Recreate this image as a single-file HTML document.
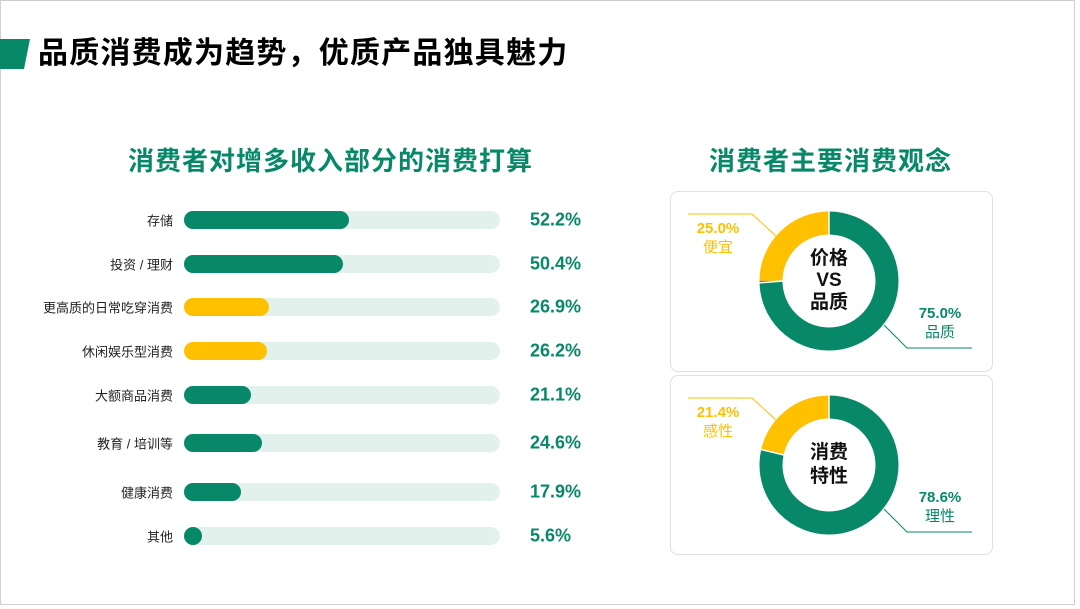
<!DOCTYPE html>
<html><head><meta charset="utf-8"><style>
body{margin:0;width:1080px;height:609px;background:#fff;font-family:"Liberation Sans","Noto Sans CJK SC",sans-serif;overflow:hidden;position:relative}
.slide{position:absolute;left:0;top:0;width:1073px;height:603px;border:1px solid #d0d0d0;border-top:1px solid #ccc;background:#fff}
.abs{position:absolute}
.lbl{position:absolute;right:907px;font-size:13px;color:#222;white-space:nowrap;transform:translateY(-50%)}
.track{position:absolute;left:184px;width:316px;height:18px;border-radius:9px;background:#e3f1ed;transform:translateY(-50%)}
.fill{position:absolute;left:0;top:0;height:18px;border-radius:9px}
.val{position:absolute;left:530px;font-size:18px;font-weight:bold;color:#078868;transform:translateY(-50%)}
.panel{position:absolute;left:670px;width:321px;border:1px solid #e0e0e0;border-radius:8px;background:#fff}
</style></head><body>
<div class="slide"></div>
<div class="abs" style="left:0;top:39px;width:30px;height:30px;background:#078868;clip-path:polygon(0 0,100% 0,80% 100%,0 100%)"></div>
<div class="abs" style="left:38px;top:34px;font-size:30px;font-weight:bold;color:#000;letter-spacing:1.2px;line-height:40px">品质消费成为趋势，优质产品独具魅力</div>
<div class="abs" style="left:128px;top:141px;font-size:26px;font-weight:bold;color:#078868;letter-spacing:1px">消费者对增多收入部分的消费打算</div>
<div class="abs" style="left:709px;top:141px;font-size:26px;font-weight:bold;color:#078868;letter-spacing:1px">消费者主要消费观念</div>

<div class="lbl" style="top:220px">存储</div><div class="track" style="top:220px"><div class="fill" style="width:165px;background:#078868"></div></div><div class="val" style="top:220px">52.2%</div>
<div class="lbl" style="top:264px">投资 / 理财</div><div class="track" style="top:264px"><div class="fill" style="width:159px;background:#078868"></div></div><div class="val" style="top:264px">50.4%</div>
<div class="lbl" style="top:307px">更高质的日常吃穿消费</div><div class="track" style="top:307px"><div class="fill" style="width:85px;background:#ffc000"></div></div><div class="val" style="top:307px">26.9%</div>
<div class="lbl" style="top:351px">休闲娱乐型消费</div><div class="track" style="top:351px"><div class="fill" style="width:83px;background:#ffc000"></div></div><div class="val" style="top:351px">26.2%</div>
<div class="lbl" style="top:395px">大额商品消费</div><div class="track" style="top:395px"><div class="fill" style="width:67px;background:#078868"></div></div><div class="val" style="top:395px">21.1%</div>
<div class="lbl" style="top:443px">教育 / 培训等</div><div class="track" style="top:443px"><div class="fill" style="width:78px;background:#078868"></div></div><div class="val" style="top:443px">24.6%</div>
<div class="lbl" style="top:492px">健康消费</div><div class="track" style="top:492px"><div class="fill" style="width:57px;background:#078868"></div></div><div class="val" style="top:492px">17.9%</div>
<div class="lbl" style="top:536px">其他</div><div class="track" style="top:536px"><div class="fill" style="width:18px;background:#078868"></div></div><div class="val" style="top:536px">5.6%</div>

<div class="panel" style="top:191px;height:179px"></div>
<div class="panel" style="top:375px;height:178px"></div>
<svg class="abs" style="left:0;top:0" width="1080" height="609">
<g transform="rotate(-90 829 281)">
<circle cx="829" cy="281" r="58" fill="none" stroke="#078868" stroke-width="23" stroke-dasharray="273.3 364.4"/>
<circle cx="829" cy="281" r="58" fill="none" stroke="#ffc000" stroke-width="23" stroke-dasharray="91.1 364.4" stroke-dashoffset="-273.3"/>
</g>
<line x1="829" y1="210" x2="829" y2="235" stroke="#fff" stroke-width="1.5"/>
<line x1="757" y1="283" x2="783" y2="281" stroke="#fff" stroke-width="1.5"/>
<g transform="rotate(-90 829 465)">
<circle cx="829" cy="465" r="58" fill="none" stroke="#078868" stroke-width="23" stroke-dasharray="286.4 364.4"/>
<circle cx="829" cy="465" r="58" fill="none" stroke="#ffc000" stroke-width="23" stroke-dasharray="78 364.4" stroke-dashoffset="-286.4"/>
</g>
<line x1="829" y1="394" x2="829" y2="419" stroke="#fff" stroke-width="1.5"/>
<line x1="759" y1="449" x2="784" y2="455" stroke="#fff" stroke-width="1.5"/>
<polyline points="688,214 752,214 776,236" fill="none" stroke="#ffc000" stroke-width="1"/>
<polyline points="884,325 907,348 972,348" fill="none" stroke="#078868" stroke-width="1"/>
<polyline points="688,398 752,398 776,420" fill="none" stroke="#ffc000" stroke-width="1"/>
<polyline points="884,509 907,532 972,532" fill="none" stroke="#078868" stroke-width="1"/>
</svg>
<div class="abs" style="left:791px;top:248px;width:76px;text-align:center;font-size:19px;font-weight:bold;line-height:22px;color:#111">价格<br>VS<br>品质</div>
<div class="abs" style="left:791px;top:441px;width:76px;text-align:center;font-size:19px;font-weight:bold;line-height:24px;color:#111">消费<br>特性</div>
<div class="abs" style="left:686px;top:219px;width:64px;text-align:center;font-size:15px;line-height:19px;color:#ffc000"><b>25.0%</b><br>便宜</div>
<div class="abs" style="left:908px;top:304px;width:64px;text-align:center;font-size:15px;line-height:19px;color:#078868"><b>75.0%</b><br>品质</div>
<div class="abs" style="left:686px;top:403px;width:64px;text-align:center;font-size:15px;line-height:19px;color:#ffc000"><b>21.4%</b><br>感性</div>
<div class="abs" style="left:908px;top:488px;width:64px;text-align:center;font-size:15px;line-height:19px;color:#078868"><b>78.6%</b><br>理性</div>
</body></html>
